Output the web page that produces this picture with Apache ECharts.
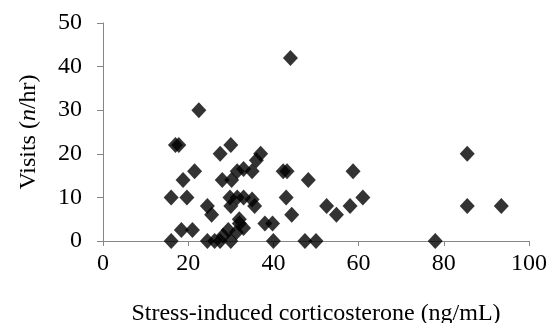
<!DOCTYPE html>
<html>
<head>
<meta charset="utf-8">
<script src="https://cdn.jsdelivr.net/npm/echarts@6/dist/echarts.min.js"></script>
<style>
    html, body { margin: 0; padding: 0; background: #fff; }
    #chart { width: 553px; height: 323px; }
</style>
</head>
<body>
<div id="chart"></div>
<script>
    // corticosterone (ng/mL) and visits (n/hr)
    var cort = [44, 22.5, 17, 17.8, 30, 27.5, 37, 36, 35, 21.5,
        18.8, 28, 30.2, 31.5, 33, 42.3, 43.2, 48.2, 58.7, 16,
        19.7, 24.5, 25.5, 29.8, 31.5, 33, 30, 35, 35.6, 43,
        44.3, 52.5, 54.8, 58, 61, 85.5, 85.5, 93.5, 38, 39.8,
        32, 32, 18.4, 21, 33, 29.4, 28.2, 16, 24.5, 26.2,
        27.5, 30, 40, 47.4, 50, 78, 31.3];
    var visits = [42, 30, 22, 22, 22, 20, 20, 18.5, 16, 16,
        14, 14, 14, 16, 16.5, 16, 16, 14, 16, 10,
        10, 8, 6, 10, 10, 10, 8, 9.5, 8, 10,
        6, 8, 6, 8, 10, 20, 8, 8, 4, 4,
        5, 4, 2.5, 2.5, 3, 2.5, 1.2, 0, 0, 0,
        0, 0, 0, 0, 0, 0, 2];
    var xTicks = [0, 100, 20];   // min, max, step
    var yTicks = [0, 50, 10];

    var points = cort.map(function (c, i) { return [c, visits[i]]; });

    var axisGray = '#868686';
    var font = '"Liberation Serif", "Times New Roman", serif';
    var fs = 24;

    var chart = echarts.init(document.getElementById('chart'));
    chart.setOption({
        animation: false,
        grid: {
            left: 103,
            right: 24,
            top: 23,
            bottom: 82,
            outerBoundsMode: 'none'
        },
        xAxis: {
            type: 'value',
            min: xTicks[0],
            max: xTicks[1],
            interval: xTicks[2],
            name: 'Stress-induced corticosterone (ng/mL)',
            nameLocation: 'middle',
            nameGap: 61,
            nameTextStyle: { color: '#000', fontFamily: font, fontSize: fs, verticalAlign: 'top' },
            axisLine: { show: true, lineStyle: { color: axisGray, width: 1 } },
            axisTick: { show: true, length: 5, lineStyle: { color: axisGray } },
            axisLabel: { color: '#000', fontFamily: font, fontSize: fs, margin: 11 },
            splitLine: { show: false }
        },
        yAxis: {
            type: 'value',
            min: yTicks[0],
            max: yTicks[1],
            interval: yTicks[2],
            name: '{r|Visits (}{i|n}{r|/hr)}',
            nameLocation: 'middle',
            nameGap: 62,
            nameRotate: 90,
            nameTextStyle: {
                rich: {
                    r: { color: '#000', fontFamily: font, fontSize: fs },
                    i: { color: '#000', fontFamily: font, fontSize: fs, fontStyle: 'italic' }
                }
            },
            axisLine: { show: true, lineStyle: { color: axisGray, width: 1 } },
            axisTick: { show: true, length: 6, lineStyle: { color: axisGray } },
            axisLabel: { color: '#000', fontFamily: font, fontSize: fs, margin: 21 },
            splitLine: { show: false }
        },
        series: [{
            type: 'scatter',
            symbol: 'diamond',
            symbolSize: [15, 16],
            itemStyle: { color: '#000' },
            data: points
        }]
    });
</script>
</body>
</html>
